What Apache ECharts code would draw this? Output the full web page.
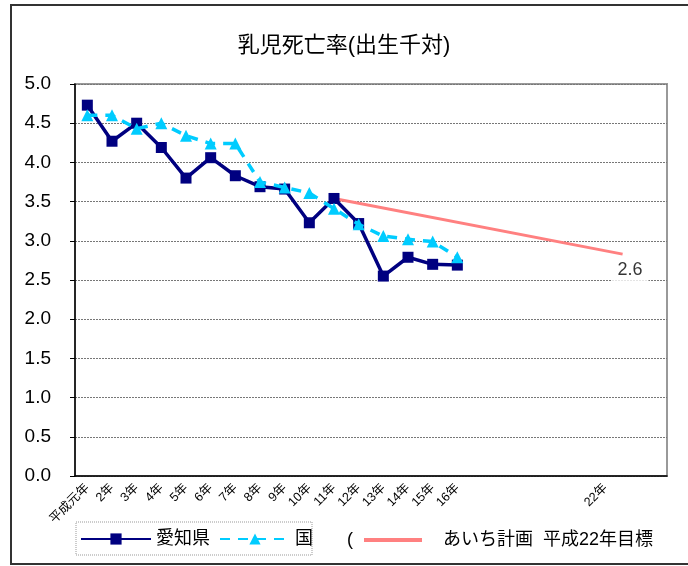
<!DOCTYPE html>
<html><head><meta charset="utf-8">
<script src="https://cdn.jsdelivr.net/npm/echarts@6/dist/echarts.min.js"></script>
<style>html,body{margin:0;padding:0;background:#fff}#c{width:688px;height:566px}</style>
</head><body><div id="c"></div>
<script>
const categories = ['平成元年','2年','3年','4年','5年','6年','7年','8年','9年','10年','11年','12年','13年','14年','15年','16年','','','','','','22年','',''];
const aichi = [4.73, 4.27, 4.50, 4.19, 3.80, 4.06, 3.83, 3.69, 3.66, 3.23, 3.54, 3.22, 2.55, 2.79, 2.70, 2.69];
const kuni  = [4.6, 4.6, 4.43, 4.5, 4.34, 4.24, 4.24, 3.75, 3.68, 3.61, 3.41, 3.21, 3.06, 3.02, 2.99, 2.79];
const planLine = [[10.5, 3.54], [22.2, 2.83]];
const planLabel = [[22.5, 2.63]];
const planText = '2.6';
const yTicks = {min: 0, max: 5, interval: 0.5};
const names = ['愛知県', '国', 'あいち計画  平成22年目標'];
const FONT = '"Liberation Sans", "Noto Sans CJK JP", sans-serif';

const chart = echarts.init(document.getElementById('c'), null, {renderer: 'canvas'});
chart.setOption({
  animation: false,
  textStyle: {fontFamily: FONT, color: '#000'},
  title: {text: '乳児死亡率(出生千対)', left: 'center', top: 30,
    textStyle: {fontFamily: FONT, fontSize: 22, fontWeight: 'normal', color: '#000'}},
  grid: {left: 75, top: 84, right: 21, bottom: 90, show: true, borderColor: '#999', borderWidth: 2},
  legend: [
    {data: [names[0], names[1]], left: 80, top: 530, padding: 0, itemWidth: 70, itemHeight: 14, itemGap: 9,
     textStyle: {fontSize: 18, fontFamily: FONT, color: '#000'}},
    {data: [{name: names[2], icon: 'rect'}], left: 364, top: 531, padding: 0, itemWidth: 58, itemHeight: 4,
     textStyle: {fontSize: 18, fontFamily: FONT, color: '#000', padding: [0,0,0,16]}}
  ],
  xAxis: [
    {type: 'category', data: categories, boundaryGap: true,
     axisLine: {lineStyle: {color: '#000', width: 1.5}},
     axisTick: {inside: true, length: 4, lineStyle: {color: '#000'}},
     axisLabel: {interval: 0, rotate: 45, fontSize: 12.5, margin: 10, color: '#000', fontFamily: FONT},
     splitLine: {show: false}},
    {type: 'value', min: 0, max: 24, show: false}
  ],
  yAxis: {type: 'value', min: yTicks.min, max: yTicks.max, interval: yTicks.interval,
    axisLine: {show: true, lineStyle: {color: '#000', width: 1.5}},
    axisTick: {show: true, length: 5, lineStyle: {color: '#000'}},
    axisLabel: {fontSize: 19, margin: 24, color: '#000', fontFamily: FONT,
      formatter: v => v.toFixed(1)},
    splitLine: {lineStyle: {color: '#777', type: [2, 1], width: 1}}},
  graphic: [
    {type: 'rect', shape: {x: 11, y: 5, width: 700, height: 559}, style: {fill: null, stroke: '#333', lineWidth: 2}, silent: true, z: -1},
    {type: 'rect', shape: {x: 76, y: 522, width: 236, height: 33}, style: {fill: null, stroke: '#999', lineWidth: 1, lineDash: [1, 1]}, silent: true},
    {type: 'text', left: 347, top: 531, style: {text: '(', fontSize: 18, fontFamily: FONT, fill: '#000'}}
  ],
  series: [
    {name: names[2], type: 'line', xAxisIndex: 1, data: planLine, symbol: 'none',
     lineStyle: {color: '#FF8080', width: 3}, itemStyle: {color: '#FF8080'}, z: 1},
    {name: 'label', type: 'scatter', xAxisIndex: 1, data: planLabel, symbolSize: 0,
     label: {show: true, position: 'inside', formatter: planText, fontSize: 18, fontFamily: FONT, color: '#000',
       backgroundColor: '#fff', padding: [4, 6]}, z: 5},
    {name: names[0], type: 'line', data: aichi, symbol: 'rect', symbolSize: 11,
     lineStyle: {color: '#000080', width: 3.5}, itemStyle: {color: '#000080'}, z: 3},
    {name: names[1], type: 'line', data: kuni, symbol: 'triangle', symbolSize: 12,
     lineStyle: {color: '#00CCFF', width: 3.5, type: [10, 8]}, itemStyle: {color: '#00CCFF'}, z: 4}
  ]
});
</script></body></html>
